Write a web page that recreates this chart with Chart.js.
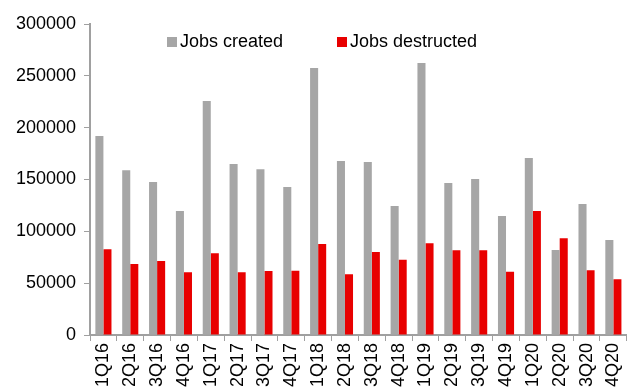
<!DOCTYPE html>
<html>
<head>
<meta charset="utf-8">
<script src="https://cdn.jsdelivr.net/npm/chart.js@4.4.0/dist/chart.umd.min.js"></script>
<style>
  html, body { margin: 0; padding: 0; background: #fff; }
  #wrap { width: 637px; height: 390px; }
</style>
</head>
<body>
<div id="wrap"><canvas id="myChart"></canvas></div>
<script>
const quarters = ["1Q16", "2Q16", "3Q16", "4Q16", "1Q17", "2Q17", "3Q17", "4Q17",
	"1Q18", "2Q18", "3Q18", "4Q18", "1Q19", "2Q19", "3Q19", "4Q19",
	"1Q20", "2Q20", "3Q20", "4Q20"];
const jobsCreated = [192000, 159000, 147600, 119600, 225700, 165000, 160000, 142800,
	257500, 167800, 167000, 124400, 262400, 146600, 150500, 114800,
	170700, 82000, 126400, 91600];
const jobsDestructed = [82700, 68500, 71400, 60500, 78800, 60500, 61700, 62000,
	87800, 58500, 80000, 72600, 88400, 81700, 81700, 61100,
	119600, 93300, 62400, 53700];

const FONT = "'Liberation Sans', Arial, sans-serif";

// legend drawn inside the plot area, like the original
const innerLegend = {
	id: "innerLegend",
	afterDraw(chart) {
		const c = chart.ctx;
		const spots = [167, 337];
		c.save();
		c.font = "18px " + FONT;
		c.textBaseline = "middle";
		chart.data.datasets.forEach((ds, i) => {
			const x = spots[i];
			c.fillStyle = ds.backgroundColor;
			c.fillRect(x, 37, 10, 10);
			c.fillStyle = "#000";
			c.fillText(ds.label, x + 13, 42);
		});
		c.restore();
	},
};

const ctx = document.getElementById("myChart");

new Chart(ctx, {
	type: "bar",
	data: {
		labels: quarters,
		datasets: [
			{ label: "Jobs created", backgroundColor: "#a6a6a6", data: jobsCreated },
			{ label: "Jobs destructed", backgroundColor: "#e80000", data: jobsDestructed },
		],
	},
	options: {
		responsive: true,
		maintainAspectRatio: false,
		animation: false,
		layout: { padding: { top: 24, right: 1, left: 0, bottom: 0 } },
		datasets: { bar: { barPercentage: 1, categoryPercentage: 0.6 } },
		plugins: {
			legend: { display: false },
			tooltip: { enabled: false },
		},
		scales: {
			x: {
				grid: {
					offset: true,
					drawOnChartArea: false,
					color: "#a0a0a0",
					tickLength: 6,
				},
				border: { color: "#a0a0a0", width: 2 },
				ticks: {
					color: "#000",
					font: { family: FONT, size: 18 },
					minRotation: 90,
					maxRotation: 90,
					autoSkip: false,
					padding: 2,
				},
				afterFit(s) { s.height = 55; },
			},
			y: {
				min: 0,
				max: 300000,
				grid: {
					drawOnChartArea: false,
					color: "#a0a0a0",
					tickLength: 6,
				},
				border: { color: "#a0a0a0", width: 2 },
				ticks: {
					stepSize: 50000,
					color: "#000",
					font: { family: FONT, size: 18 },
					padding: 8,
					callback: (v) => String(v),
				},
				afterFit(s) { s.width = 90; },
			},
		},
	},
	plugins: [innerLegend],
});
</script>
</body>
</html>
